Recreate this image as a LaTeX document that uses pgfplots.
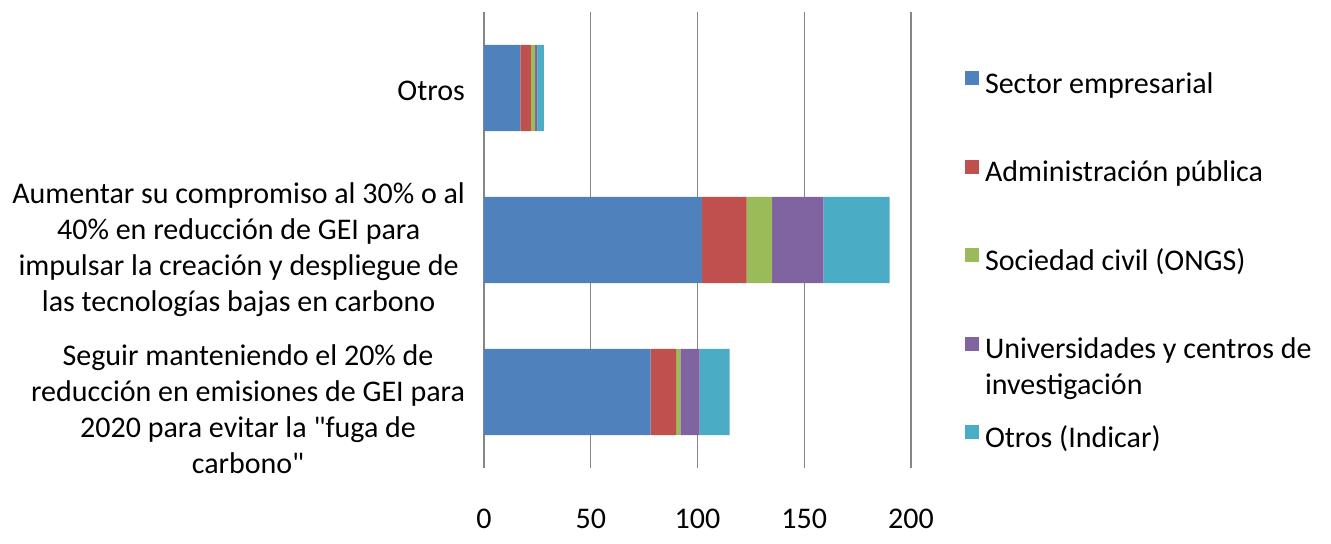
\documentclass[border=0pt]{standalone}
\usepackage{pgfplots}
\pgfplotsset{compat=1.18}
\usepackage{fontspec}
\setmainfont{Carlito}[Ligatures=TeXOff]
\definecolor{cA}{HTML}{4F81BD}
\definecolor{cB}{HTML}{C0504D}
\definecolor{cC}{HTML}{9BBB59}
\definecolor{cD}{HTML}{8064A2}
\definecolor{cE}{HTML}{4BACC6}
\definecolor{gridc}{HTML}{868686}
\begin{document}
\begin{tikzpicture}
\begin{axis}[
  scale only axis, width=213.5pt, height=228pt,
  xbar stacked, bar width=0.566,
  xmin=0, xmax=200, ymin=-0.5, ymax=2.5,
  xtick={0,50,100,150,200},
  ytick={0,1,2},
  yticklabels={{Seguir manteniendo el 20\% de\\reducción en emisiones de GEI para\\2020 para evitar la "fuga de\\carbono"},
               {Aumentar su compromiso al 30\% o al\\40\% en reducción de GEI para\\impulsar la creación y despliegue de\\las tecnologías bajas en carbono},
               {Otros}},
  axis line style={draw=none},
  major tick length=0pt,
  xmajorgrids, grid style={draw=gridc, line width=0.7pt},
  tick label style={font=\fontsize{15}{18}\selectfont},
  /pgf/number format/assume math mode=true,
  xticklabel style={anchor=north, yshift=-17pt},
  yticklabel style={align=center, anchor=east, xshift=-6pt,
    yshift={(-8.5+3.5*\ticknum)*1pt}},
  legend cell align=left,
  legend style={draw=none, fill=none, inner sep=0pt, outer sep=0pt,
    at={(rel axis cs:1.1265,0.8706)}, anchor=north west,
    row sep=30.25pt, column sep=3pt,
    font=\fontsize{15}{18}\selectfont,
    nodes={inner sep=0pt, text height=10pt, text depth=3pt}},
  legend image code/.code={\fill[#1] (0pt,0.5pt) rectangle (7pt,7.5pt);},
]
\addplot[fill=cA, draw=none] coordinates {(78,0) (102,1) (17,2)};
\addplot[fill=cB, draw=none] coordinates {(12,0) (21,1) (5,2)};
\addplot[fill=cC, draw=none] coordinates {(2,0) (12,1) (2,2)};
\addplot[fill=cD, draw=none] coordinates {(9,0) (24,1) (1,2)};
\addplot[fill=cE, draw=none] coordinates {(14,0) (31,1) (3,2)};
\addlegendentry{Sector empresarial}
\addlegendentry{Administración pública}
\addlegendentry{Sociedad civil (ONGS)}
\addlegendentry{\begin{tabular}[t]{@{}l@{}}Universidades y centros de\\investigación\end{tabular}}
\addlegendentry{Otros (Indicar)}
\end{axis}
\pgfresetboundingbox
\path[use as bounding box] (-242pt,-37.5pt) rectangle (423.5pt,234pt);
\end{tikzpicture}
\end{document}
